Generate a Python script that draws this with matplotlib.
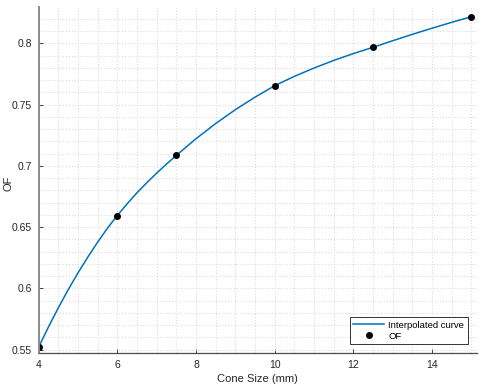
import numpy as np
import matplotlib
matplotlib.use('Agg')
import matplotlib.pyplot as plt
from matplotlib.ticker import MultipleLocator

plt.rcParams['font.family'] = ['Liberation Sans', 'DejaVu Sans']

# measured output factors
cone_size = [4, 6, 7.5, 10, 12.5, 15]
of_values = [0.552, 0.659, 0.7085, 0.7654, 0.7967, 0.8217]

# interpolated curve (finer where it bends most)
curve_x = [4, 4.25, 4.5, 4.75, 5, 5.25, 5.5, 5.75, 6, 6.25, 6.5, 6.75, 7,
           7.25, 7.5, 8, 8.5, 9, 9.5, 10, 10.5, 11, 11.5, 12, 12.5, 13,
           13.5, 14, 14.5, 15]
curve_y = [0.552, 0.5685, 0.5841, 0.5988, 0.6126, 0.6255, 0.6377, 0.6491,
           0.6595, 0.6690, 0.6780, 0.6862, 0.6940, 0.7014, 0.7085,
           0.7221, 0.7345, 0.7458, 0.7560, 0.7654, 0.7730, 0.7798, 0.7860,
           0.7916, 0.7967, 0.8021, 0.8073, 0.8123, 0.8171, 0.8217]

x_ticks = [4, 6, 8, 10, 12, 14]
y_ticks = [0.55, 0.6, 0.65, 0.7, 0.75, 0.8]
y_tick_labels = ['0.55', '0.6', '0.65', '0.7', '0.75', '0.8']

fig = plt.figure(figsize=(4.83, 3.84), dpi=100)
ax = fig.add_axes([0.08, 0.08, 0.908, 0.902])

ax.plot(curve_x, curve_y, color='#0072BD', lw=1.1, label='Interpolated curve')
ax.plot(cone_size, of_values, 'o', color='black', ms=4, label='OF')

ax.set_xlim(4, 15.15)
ax.set_ylim(0.547, 0.8297)
ax.set_xticks(x_ticks)
ax.set_yticks(y_ticks)
ax.set_yticklabels(y_tick_labels)
ax.xaxis.set_minor_locator(MultipleLocator(0.5))
ax.yaxis.set_minor_locator(MultipleLocator(0.01))

ax.grid(True, which='both', linestyle=':', color='#dcdcdc', lw=0.8)
ax.set_axisbelow(True)

for s in ['top', 'right']:
    ax.spines[s].set_visible(False)
ax.spines['left'].set_color('#8c8c8c')
ax.spines['left'].set_linewidth(1.4)
ax.spines['bottom'].set_color('#4d4d4d')
ax.spines['bottom'].set_linewidth(0.9)

ax.tick_params(which='major', direction='in', length=3, labelsize=7.5,
               colors='#262626', width=0.6, pad=5)
ax.tick_params(which='minor', length=0)

ax.set_xlabel('Cone Size (mm)', fontsize=8, color='#262626', labelpad=3)
ax.set_ylabel('OF', fontsize=8, color='#262626')
ax.yaxis.set_label_coords(-0.058, 0.49)

leg = ax.legend(loc='lower right', bbox_to_anchor=(0.99, 0.012), fontsize=6.8,
                fancybox=False, framealpha=1, edgecolor='#333333',
                borderpad=0.4, handlelength=3.2, handletextpad=0.5,
                labelspacing=0.2)
leg.get_frame().set_linewidth(0.7)

fig.savefig('out.png', dpi=100)
